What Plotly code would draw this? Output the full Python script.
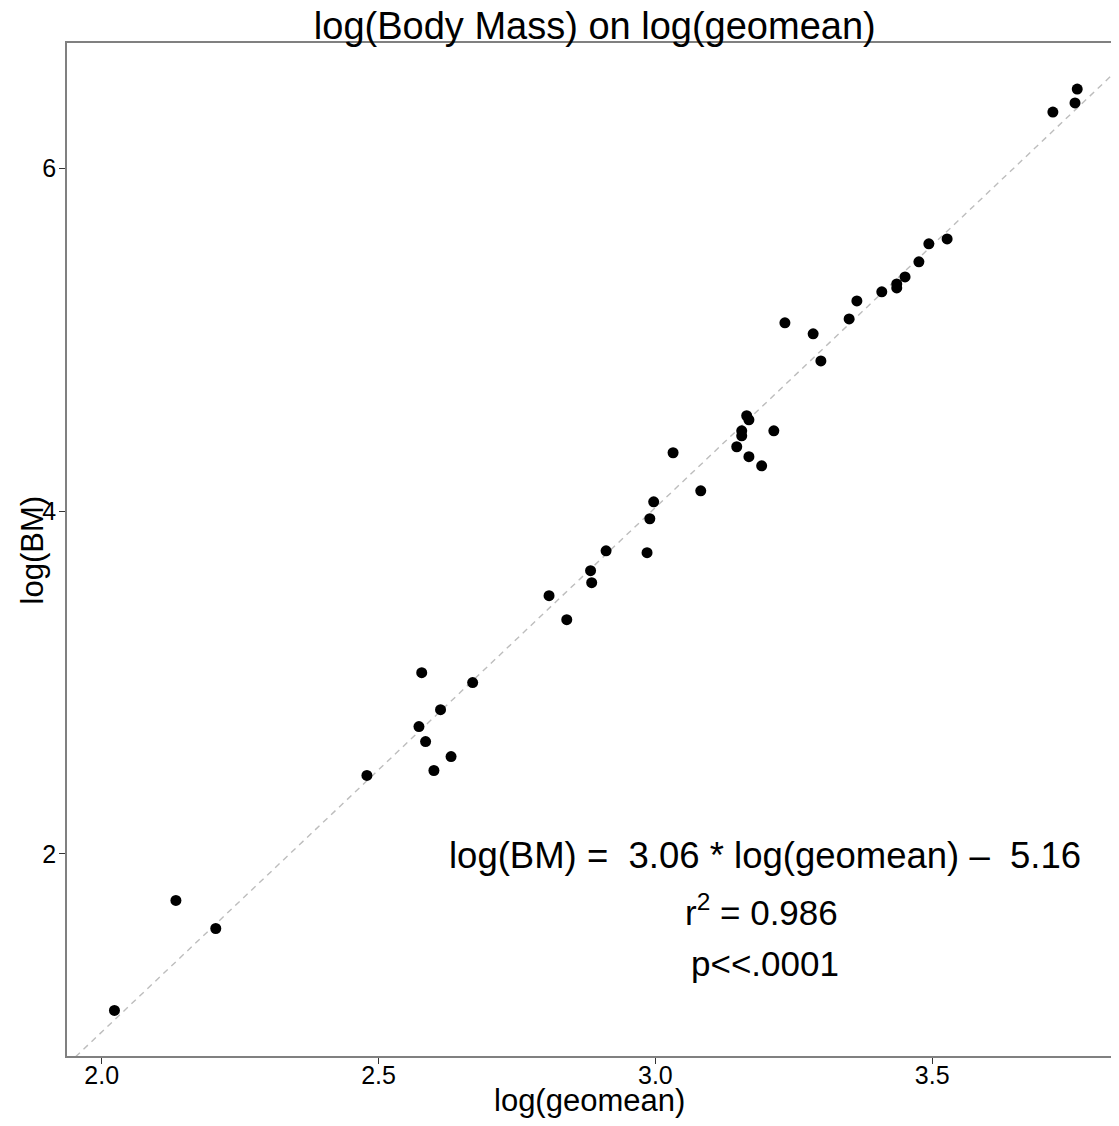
import plotly.graph_objects as go

# Data
log_geomean = [2.023, 2.134, 2.206, 2.479, 2.573, 2.578, 2.585, 2.600, 2.612, 2.631,
               2.670, 2.808, 2.840, 2.883, 2.885, 2.911, 2.985, 2.990, 2.997, 3.032,
               3.082, 3.147, 3.156, 3.156, 3.165, 3.169, 3.169, 3.192, 3.214, 3.234,
               3.285, 3.299, 3.350, 3.364, 3.409, 3.436, 3.436, 3.451, 3.476, 3.494,
               3.527, 3.718, 3.758, 3.762]
log_bm = [1.086, 1.728, 1.564, 2.457, 2.742, 3.057, 2.655, 2.486, 2.841, 2.567,
          2.999, 3.506, 3.366, 3.652, 3.582, 3.768, 3.757, 3.955, 4.054, 4.340,
          4.118, 4.375, 4.468, 4.439, 4.556, 4.532, 4.317, 4.264, 4.468, 5.098,
          5.034, 4.876, 5.121, 5.226, 5.279, 5.325, 5.302, 5.366, 5.454, 5.559,
          5.588, 6.328, 6.381, 6.462]

slope = 3.06
intercept = -5.16

x_ticks = [2.0, 2.5, 3.0, 3.5]
x_tick_labels = ["2.0", "2.5", "3.0", "3.5"]
y_ticks = [2, 4, 6]
y_tick_labels = ["2", "4", "6"]

x_range = [1.9373, 3.823]
y_range = [0.820, 6.731]

FONT = "Liberation Sans, Arial, Helvetica, sans-serif"

fig = go.Figure()

line_x = [x_range[0] - 0.1, x_range[1] + 0.1]
line_y = [slope * v + intercept for v in line_x]
fig.add_trace(go.Scatter(x=line_x, y=line_y, mode="lines",
                         line=dict(color="#bdbdbd", width=1.4, dash="6px,5px"),
                         hoverinfo="skip", showlegend=False))

fig.add_trace(go.Scatter(x=log_geomean, y=log_bm, mode="markers",
                         marker=dict(color="black", size=11, line=dict(width=0)),
                         showlegend=False))

fig.add_annotation(x=3.198, y=1.99, xref="x", yref="y",
                   text="log(BM) =&nbsp; 3.06 * log(geomean) \u2013&nbsp; 5.16",
                   showarrow=False, font=dict(family=FONT, size=36.5, color="black"))
fig.add_annotation(x=3.192, y=1.67, xref="x", yref="y",
                   text="r<sup>2</sup> = 0.986",
                   showarrow=False, font=dict(family=FONT, size=35, color="black"))
fig.add_annotation(x=3.198, y=1.36, xref="x", yref="y",
                   text="p<<.0001",
                   showarrow=False, font=dict(family=FONT, size=35, color="black"))

# axis titles
fig.add_annotation(x=0.5, y=-0.0435, xref="paper", yref="paper",
                   xanchor="center", yanchor="middle",
                   text="log(geomean)", showarrow=False,
                   font=dict(family=FONT, size=31, color="black"))
fig.add_annotation(x=-0.0326, y=0.5, xref="paper", yref="paper",
                   xanchor="center", yanchor="middle", textangle=-90,
                   text="log(BM)", showarrow=False,
                   font=dict(family=FONT, size=31, color="black"))

fig.update_layout(
    width=1103, height=1110,
    margin=dict(l=59, r=0, t=35, b=62),
    plot_bgcolor="white", paper_bgcolor="white",
    title=dict(text="log(Body Mass) on log(geomean)", x=0.532, xanchor="center",
               xref="container", yref="container",
               y=0.984, yanchor="middle",
               font=dict(family=FONT, size=38, color="black")),
    font=dict(family=FONT, color="black"),
    xaxis=dict(range=x_range, tickvals=x_ticks, ticktext=x_tick_labels,
               showgrid=False, zeroline=False, showline=True, linecolor="#808080",
               linewidth=1.5, mirror=True, ticks="outside", ticklen=6,
               tickcolor="#333333", tickwidth=1.2, ticklabelstandoff=-10,
               tickfont=dict(family=FONT, size=25, color="black"),
               automargin=False),
    yaxis=dict(range=y_range, tickvals=y_ticks, ticktext=y_tick_labels,
               showgrid=False, zeroline=False, showline=True, linecolor="#808080",
               linewidth=1.5, mirror=False, ticks="outside", ticklen=6,
               tickcolor="#333333", tickwidth=1.2, ticklabelstandoff=-2,
               tickfont=dict(family=FONT, size=25, color="black"),
               automargin=False),
)

fig.write_html("out.html")
